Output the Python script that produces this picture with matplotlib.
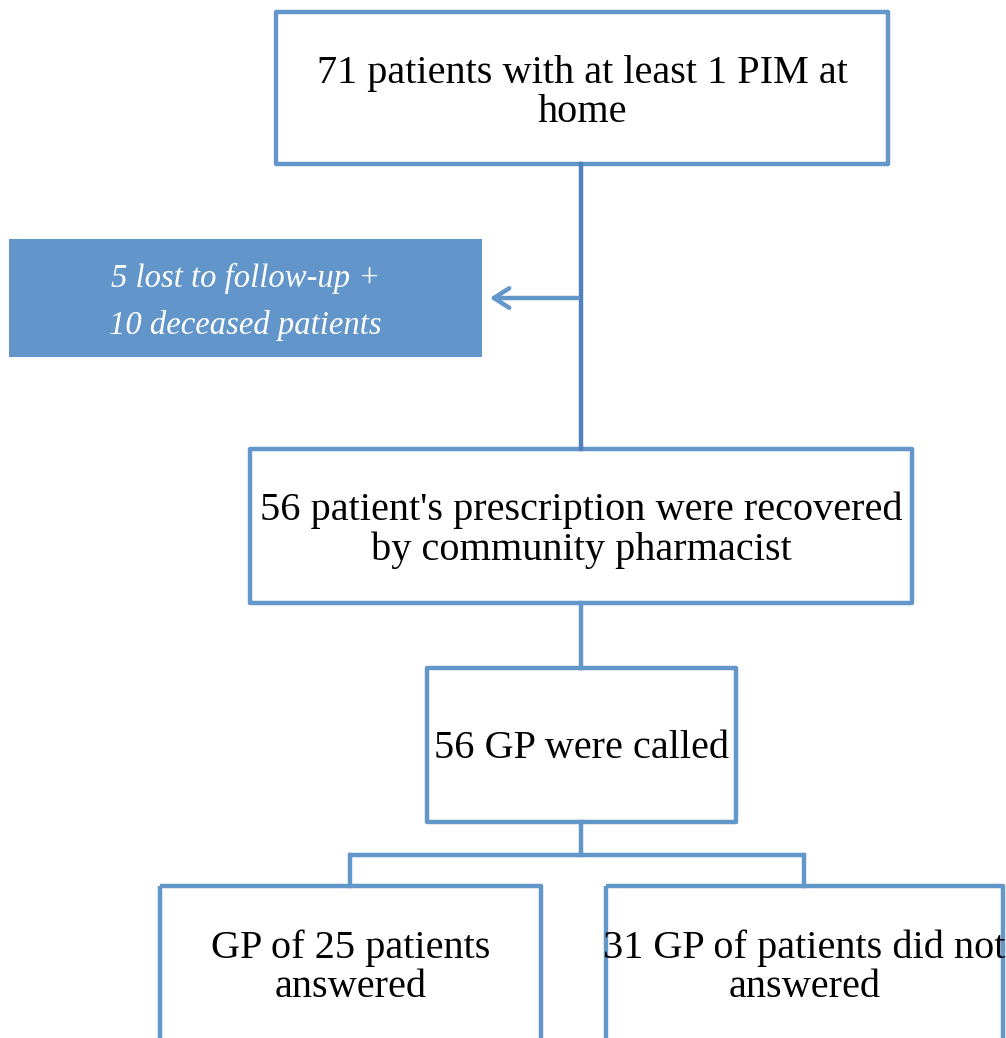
import matplotlib.pyplot as plt
from matplotlib.patches import Rectangle

# box texts of the flow chart
box_texts = [
    "71 patients with at least 1 PIM at\nhome",
    "56 patient's prescription were recovered\nby community pharmacist",
    "56 GP were called",
    "GP of 25 patients\nanswered",
    "31 GP of patients did not\nanswered",
]
excluded_text = "5 lost to follow-up +\n10 deceased patients"

# box geometry in pixels: x0, y0, x1, y1
box_pos = [
    (276, 12, 888, 164),
    (250, 449, 912, 603),
    (427, 668, 736, 822),
    (160, 886, 541, 1060),
    (606, 886, 1003, 1060),
]
text_y = [93, 530, 749, 968, 968]
excl_pos = (9, 239, 482, 357)

line_c = '#6397CA'
dark_c = '#4F81BD'
fill_c = '#6295C9'
font = ['Liberation Serif', 'DejaVu Serif']

fig = plt.figure(figsize=(10.06, 10.38), dpi=100)
ax = fig.add_axes([0, 0, 1, 1])
ax.set_xlim(0, 1006)
ax.set_ylim(1038, 0)
ax.axis('off')

for (x0, y0, x1, y1), t, ty in zip(box_pos, box_texts, text_y):
    ax.add_patch(Rectangle((x0, y0), x1 - x0, y1 - y0, fill=False,
                           edgecolor=line_c, lw=3.2, joinstyle='round'))
    ax.text((x0 + x1) / 2, ty, t, ha='center', va='center', fontsize=29,
            family=font, linespacing=1.08, color='black')

x0, y0, x1, y1 = excl_pos
ax.add_patch(Rectangle((x0, y0), x1 - x0, y1 - y0, facecolor=fill_c,
                       edgecolor='none'))
ax.text((x0 + x1) / 2, (y0 + y1) / 2 + 4, excluded_text, ha='center',
        va='center', fontsize=23.5, style='italic', family=font,
        color='white', linespacing=1.7)

# connectors
ax.plot([581, 581], [164, 449], color=dark_c, lw=3.2)
ax.annotate('', xy=(487, 298), xytext=(581, 298),
            arrowprops=dict(arrowstyle='->,head_length=1.1,head_width=0.7',
                            color=line_c, lw=3.2))
ax.plot([581, 581], [603, 668], color=line_c, lw=3.2)
ax.plot([581, 581], [822, 855], color=line_c, lw=3.2)
ax.plot([350, 804], [855, 855], color=line_c, lw=3.2, solid_capstyle='round')
ax.plot([350, 350], [855, 886], color=line_c, lw=3.2)
ax.plot([804, 804], [855, 886], color=line_c, lw=3.2)

fig.savefig('out.png', dpi=100)
